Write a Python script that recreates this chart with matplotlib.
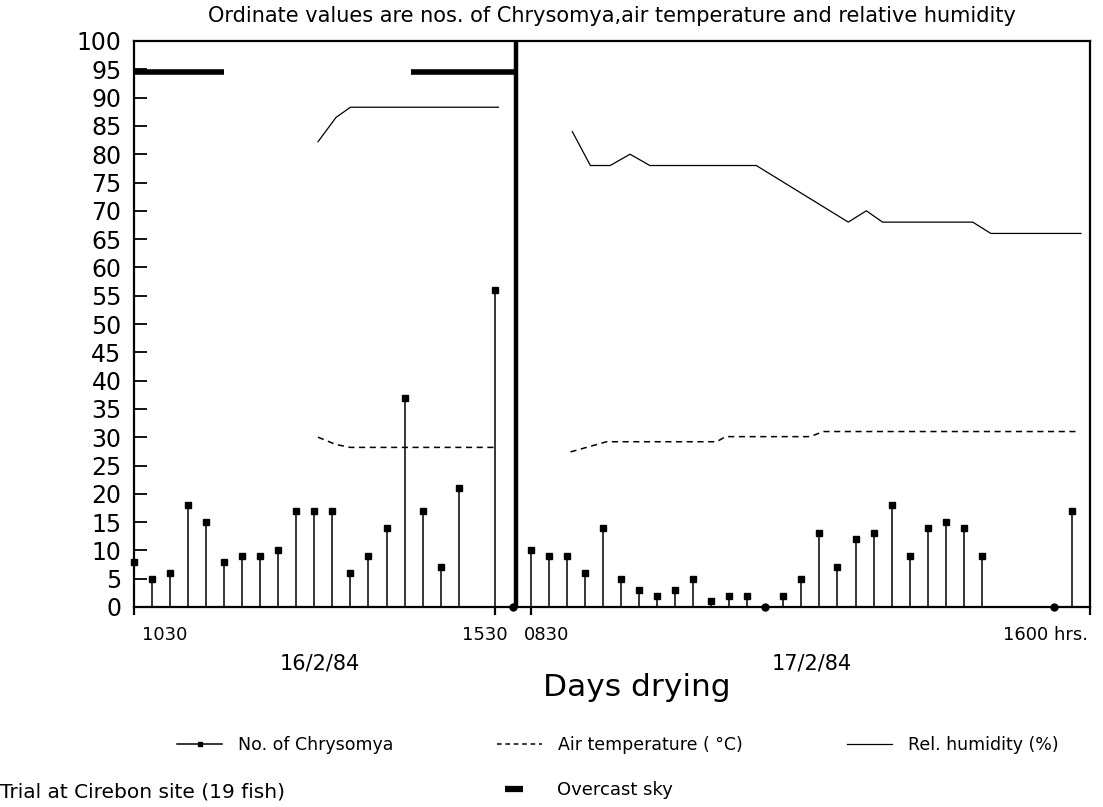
import matplotlib
matplotlib.use("Agg")
import matplotlib.pyplot as plt
from matplotlib.lines import Line2D
from matplotlib.transforms import blended_transform_factory
import numpy as np

# ---------------- data ----------------
# x positions are 15-minute sampling slots (0 = 1030 on 16/2/84, 53 = 1600 on 17/2/84)
chrys_x = [0, 1, 2, 3, 4, 5, 6, 7, 8, 9, 10, 11, 12, 13, 14, 15, 16, 17, 18, 20, 21,
           22, 23, 24, 25, 26, 27, 28, 29, 30, 31, 32, 33, 34, 35, 36, 37, 38, 39, 40,
           41, 42, 43, 44, 45, 46, 47, 51, 52]
chrys_n = [8, 5, 6, 18, 15, 8, 9, 9, 10, 17, 17, 17, 6, 9, 14, 37, 17, 7, 21, 56, 0,
           10, 9, 9, 6, 14, 5, 3, 2, 3, 5, 1, 2, 2, 0, 2, 5, 13, 7, 12,
           13, 18, 9, 14, 15, 14, 9, 0, 17]

temp1_x = [10.2, 11.2, 12.0, 20.1]
temp1_y = [30.0, 28.7, 28.2, 28.2]
temp2_x = [24.2, 26.2, 32.3, 32.8, 37.5, 38.2, 52.2]
temp2_y = [27.4, 29.2, 29.2, 30.1, 30.1, 31.0, 31.0]

rh1_x = [10.2, 11.2, 12.0, 20.2]
rh1_y = [82.2, 86.5, 88.3, 88.3]
rh2_x = [24.3, 25.3, 26.4, 27.5, 28.6, 34.5, 39.6, 40.6, 41.5, 46.5, 47.5, 52.5]
rh2_y = [84, 78, 78, 80, 78, 78, 68, 70, 68, 68, 66, 66]

overcast_start = [0.0, 15.35]
overcast_end = [5.0, 21.2]
overcast_level = 94.5

day_break = 21.2
time_ticks = [0, 20, 22, 53]
time_labels = ["1030", "1530", "0830", "1600 hrs."]
time_label_pos = [1.72, 19.43, 22.87, 50.55]
day_labels = ["16/2/84", "17/2/84"]
day_label_pos = [10.3, 37.6]
y_ticks = list(range(0, 101, 5))

# ---------------- figure ----------------
W, H = 1103, 807
fig = plt.figure(figsize=(W / 100, H / 100), dpi=100)
plt.rcParams['font.family'] = ['DejaVu Sans']
ax = fig.add_axes([134 / W, 1 - 607 / H, (1090 - 134) / W, (607 - 41) / H])
ax.set_xlim(0, 53)
ax.set_ylim(0, 100)

for s in ax.spines.values():
    s.set_linewidth(1.6)
    s.set_color('black')

# stems
cx = np.array(chrys_x, dtype=float)
cn = np.array(chrys_n, dtype=float)
pos = cn > 0
ax.vlines(cx[pos], 0, cn[pos], color='black', lw=1.1, clip_on=False, zorder=3)
ax.plot(cx[pos], cn[pos], ls='none', marker='s', ms=4.2, color='black',
        clip_on=False, zorder=4)
ax.plot(cx[~pos], cn[~pos], ls='none', marker='o', ms=5, color='black',
        clip_on=False, zorder=4)

# air temperature (dashed)
for xs, ys in [(temp1_x, temp1_y), (temp2_x, temp2_y)]:
    ax.plot(xs, ys, color='black', lw=1.1, ls=(0, (4, 3)))

# relative humidity (thin solid)
for xs, ys in [(rh1_x, rh1_y), (rh2_x, rh2_y)]:
    ax.plot(xs, ys, color='black', lw=0.9)

# overcast sky bars
ax.hlines([overcast_level] * len(overcast_start), overcast_start, overcast_end,
          color='black', lw=4.0, zorder=5)

# day divider
ax.axvline(day_break, color='black', lw=3.2, zorder=5)

# y axis
ax.set_yticks(y_ticks)
ax.set_yticklabels([str(v) for v in y_ticks], fontsize=17)
ax.tick_params(axis='y', direction='in', length=9, width=1.3, pad=9)

# x axis ticks
ax.set_xticks(time_ticks)
ax.set_xticklabels([])
ax.tick_params(axis='x', direction='out', length=6, width=1.6)

trans = blended_transform_factory(ax.transData, ax.transAxes)
for p, lab in zip(time_label_pos, time_labels):
    ax.text(p, -0.05, lab, transform=trans, ha='center', va='center', fontsize=13)
for p, lab in zip(day_label_pos, day_labels):
    ax.text(p, -0.099, lab, transform=trans, ha='center', va='center', fontsize=15)

# title
fig.text(612 / W, 1 - 16 / H,
         "Ordinate values are nos. of Chrysomya,air temperature and relative humidity",
         ha='center', va='center', fontsize=15)

fig.text(637 / W, 1 - 688 / H, "Days drying", ha='center', va='center', fontsize=22.5)

# legend
handles = [
    Line2D([], [], color='black', lw=1.1, marker='s', ms=3.2),
    Line2D([], [], color='black', lw=1.1, ls=(0, (3, 2.5))),
    Line2D([], [], color='black', lw=0.9),
]
labels = ["No. of Chrysomya", "Air temperature ( \u00b0C)", "Rel. humidity (%)"]
fig.legend(handles, labels, ncol=3, frameon=False, loc='center left',
           bbox_to_anchor=(177 / W, 1 - 745 / H), borderpad=0, borderaxespad=0,
           handlelength=2.6, handletextpad=0.9, columnspacing=6.0, fontsize=12.5,
           numpoints=1)

fig.legend([Line2D([], [], color='black', lw=4.5, solid_capstyle='butt')],
           ["Overcast sky"], frameon=False, loc='center left',
           bbox_to_anchor=(505 / W, 1 - 790 / H), borderpad=0, borderaxespad=0,
           handlelength=1.0, handletextpad=1.9, fontsize=13)

fig.text(0, 1 - 792 / H, "Trial at Cirebon site (19 fish)", ha='left', va='center',
         fontsize=14.5)

fig.savefig("out.png", dpi=100)
